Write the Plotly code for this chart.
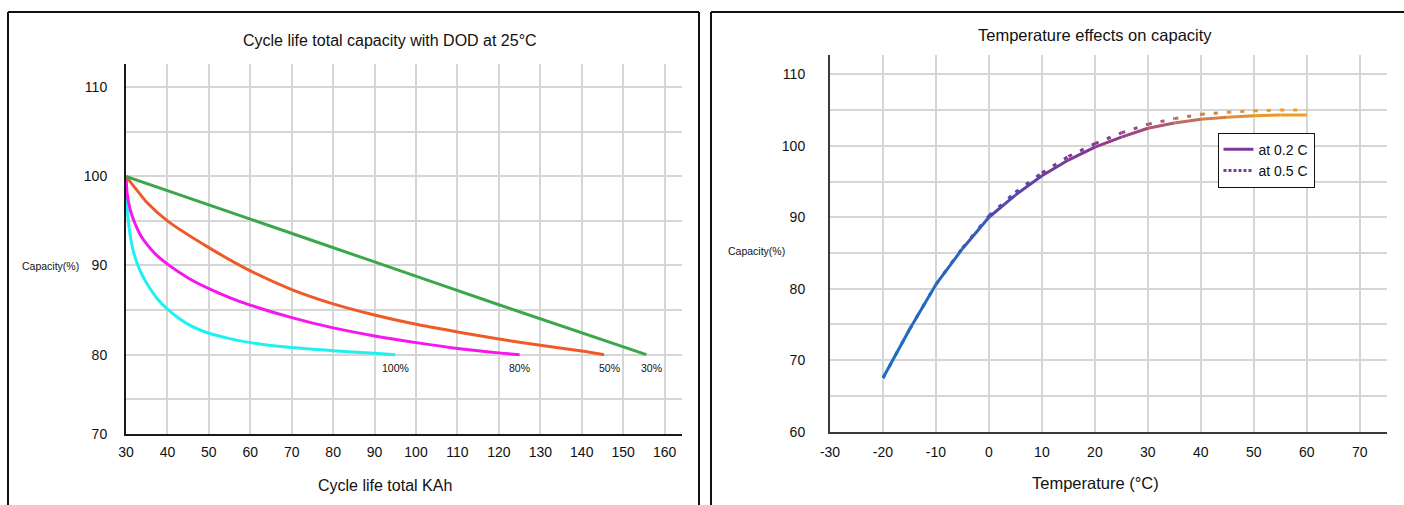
import plotly.graph_objects as go

W, H = 1404, 505

# ---------------- Left chart data (Cycle life vs DOD) ----------------
dod_labels = ["100%", "80%", "50%", "30%"]
dod100_kah = [30, 30.3, 31, 32, 33.5, 35, 37.5, 40, 45, 50, 55, 60, 70, 80, 90, 95]
dod100_cap = [100, 96.3, 93.4, 91.2, 89.3, 88.0, 86.3, 85.1, 83.4, 82.4, 81.8, 81.35, 80.8, 80.45, 80.15, 80.0]
dod80_kah = [30, 30.3, 31, 32, 33.5, 35, 37.5, 40, 45, 50, 55, 60, 70, 80, 90, 100, 110, 120, 125]
dod80_cap = [100, 98.0, 96.3, 94.9, 93.4, 92.4, 91.1, 90.15, 88.6, 87.4, 86.4, 85.55, 84.15, 83.0, 82.1, 81.35, 80.7, 80.2, 80.0]
dod50_kah = [30, 33.4, 35, 40, 50, 60, 70, 80, 90, 100, 110, 120, 130, 140, 145.4]
dod50_cap = [100, 98.0, 97.1, 95.0, 92.0, 89.4, 87.3, 85.7, 84.45, 83.4, 82.55, 81.75, 81.05, 80.4, 80.0]
dod30_kah = [30, 60, 90, 120, 155.6]
dod30_cap = [100, 95.2, 90.4, 85.6, 80.0]

left_ytick_vals = [71.1, 75, 80, 85, 90, 95, 100, 105, 110]
left_ytick_text = ["70", "", "80", "", "90", "", "100", "", "110"]

# ---------------- Right chart data (Temperature effects) ----------------
temp_c = [-20, -15, -10, -5, 0, 5, 10, 15, 20, 25, 30, 35, 40, 45, 50, 55, 60]
cap_02c = [67.5, 74.3, 80.6, 85.6, 90.0, 93.1, 95.8, 98.0, 99.8, 101.2, 102.45, 103.2, 103.7, 104.0, 104.2, 104.3, 104.3]
cap_05c = [67.5, 74.3, 80.6, 85.7, 90.2, 93.5, 96.2, 98.5, 100.3, 101.8, 103.0, 103.8, 104.4, 104.7, 104.9, 105.0, 105.0]
series_names = ["at 0.2 C", "at 0.5 C"]

right_xtick_vals = [-30, -20, -10, 0, 10, 20, 30, 40, 50, 60, 70]
right_xtick_text = ["-30", "-20", "-10", "0", "10", "20", "30", "40", "50", "60", "70"]
right_ytick_vals = [60, 65, 70, 75, 80, 85, 90, 95, 100, 105, 110]
right_ytick_text = ["60", "", "70", "", "80", "", "90", "", "100", "", "110"]

# gradient colour stops along temperature
grad_stops = [(-20, "#1c6fc2"), (-5, "#2f62bb"), (0, "#4a4db0"), (10, "#6a3ea0"),
              (20, "#873592"), (30, "#a64e7c"), (40, "#cc7a4e"), (50, "#e6982e"), (60, "#f0a020")]


def hex2rgb(h):
    h = h.lstrip("#")
    return tuple(int(h[i:i + 2], 16) for i in (0, 2, 4))


def grad_color(t):
    if t <= grad_stops[0][0]:
        return grad_stops[0][1]
    for (t0, c0), (t1, c1) in zip(grad_stops[:-1], grad_stops[1:]):
        if t0 <= t <= t1:
            f = (t - t0) / (t1 - t0)
            a, b = hex2rgb(c0), hex2rgb(c1)
            r = [round(a[i] + (b[i] - a[i]) * f) for i in range(3)]
            return "rgb(%d,%d,%d)" % tuple(r)
    return grad_stops[-1][1]


def px_x(p):
    return p / W


def px_y(p):
    return 1 - p / H


FONT = "Arial, Liberation Sans, sans-serif"
GRID = "#d6d6d6"

fig = go.Figure()

# Left curves
left_series = [
    (dod100_kah, dod100_cap, "#1ff0f0", dod_labels[0]),
    (dod80_kah, dod80_cap, "#f516f0", dod_labels[1]),
    (dod50_kah, dod50_cap, "#ee5a28", dod_labels[2]),
    (dod30_kah, dod30_cap, "#3aa849", dod_labels[3]),
]
for xs, ys, col, name in left_series:
    fig.add_trace(go.Scatter(x=xs, y=ys, mode="lines", name=name,
                             line=dict(color=col, width=3, shape="spline", smoothing=0.8),
                             xaxis="x", yaxis="y", showlegend=False, hoverinfo="skip"))

# Right curves: gradient segments
for vals, dash in [(cap_02c, "solid"), (cap_05c, "4px,9px")]:
    for i in range(len(temp_c) - 1):
        tm = 0.5 * (temp_c[i] + temp_c[i + 1])
        fig.add_trace(go.Scatter(x=temp_c[i:i + 2], y=vals[i:i + 2], mode="lines",
                                 line=dict(color=grad_color(tm), width=3, dash=dash),
                                 xaxis="x2", yaxis="y2", showlegend=False, hoverinfo="skip"))

# legend entries
fig.add_trace(go.Scatter(x=[None], y=[None], mode="lines", name=series_names[0],
                         line=dict(color="#7a3a98", width=3), xaxis="x2", yaxis="y2"))
fig.add_trace(go.Scatter(x=[None], y=[None], mode="lines", name=series_names[1],
                         line=dict(color="#7a3a98", width=3, dash="3px,2px"), xaxis="x2", yaxis="y2"))

axis_common = dict(showgrid=True, gridcolor=GRID, gridwidth=1.5, zeroline=False,
                   showline=True, ticks="", automargin=False,
                   tickfont=dict(size=14, color="#111", family=FONT))

fig.update_layout(
    width=W, height=H, autosize=False,
    margin=dict(l=0, r=0, t=0, b=0, pad=0, autoexpand=False),
    paper_bgcolor="white", plot_bgcolor="white",
    font=dict(family=FONT, color="#111"),
    xaxis=dict(domain=[px_x(126), px_x(682)], range=[30, 164.2], tickmode="linear",
               tick0=30, dtick=10, anchor="y", linecolor="#1a1a1a", linewidth=2,
               ticklabelstandoff=4, **axis_common),
    yaxis=dict(domain=[px_y(434), px_y(64)], range=[71.1, 112.6], tickmode="array",
               tickvals=left_ytick_vals, ticktext=left_ytick_text, anchor="x",
               linecolor="#1a1a1a", linewidth=2, ticklabelstandoff=14, **axis_common),
    xaxis2=dict(domain=[px_x(830), px_x(1387.3)], range=[-30, 75.2], tickmode="array",
                tickvals=right_xtick_vals, ticktext=right_xtick_text, anchor="y2",
                linecolor="#3a3a3a", linewidth=2, ticklabelstandoff=6, **axis_common),
    yaxis2=dict(domain=[px_y(431.7), px_y(55)], range=[60, 112.7], tickmode="array",
                tickvals=right_ytick_vals, ticktext=right_ytick_text, anchor="x2",
                linecolor="#3a3a3a", linewidth=2, ticklabelstandoff=20, **axis_common),
    legend=dict(x=px_x(1217.5), y=px_y(132.7), xanchor="left", yanchor="top",
                bordercolor="#111", borderwidth=1, bgcolor="white",
                font=dict(size=14, family=FONT, color="#111"), itemwidth=30,
                tracegroupgap=0),
)

# Panel borders (left, top, right edges of each framed panel)
border = dict(color="#111", width=2)
for x0, x1 in [(8, 699), (711, 1404)]:
    fig.add_shape(type="line", xref="paper", yref="paper", x0=px_x(x0), x1=px_x(x0),
                  y0=0, y1=px_y(12), line=border, layer="above")
    fig.add_shape(type="line", xref="paper", yref="paper", x0=px_x(x0), x1=px_x(x1),
                  y0=px_y(12), y1=px_y(12), line=border, layer="above")
    if x1 < W:
        fig.add_shape(type="line", xref="paper", yref="paper", x0=px_x(x1), x1=px_x(x1),
                      y0=0, y1=px_y(12), line=border, layer="above")

# Titles and axis titles
texts = [
    ("Cycle life total capacity with DOD at 25°C", 390, 41, 16),
    ("Cycle life total KAh", 385, 485, 16),
    ("Capacity(%)", 50.5, 266, 10.5),
    ("Temperature effects on capacity", 1095, 35, 16.5),
    ("Temperature (°C)", 1095, 483, 16.5),
    ("Capacity(%)", 756, 251, 10.5),
]
for t, x, y, s in texts:
    fig.add_annotation(text=t, xref="paper", yref="paper", x=px_x(x), y=px_y(y),
                       xanchor="center", yanchor="middle", showarrow=False,
                       font=dict(size=s, family=FONT, color="#111"))

# DOD end labels
ends = [(dod100_kah[-1], dod100_cap[-1], 0), (dod80_kah[-1], dod80_cap[-1], 0),
        (dod50_kah[-1], dod50_cap[-1], 5), (dod30_kah[-1], dod30_cap[-1], 5)]
for (xe, ye, dx), lab in zip(ends, dod_labels):
    fig.add_annotation(text=lab, xref="x", yref="y", x=xe, y=ye, xshift=dx, yshift=-13,
                       xanchor="center", yanchor="middle", showarrow=False,
                       font=dict(size=10.5, family=FONT, color="#111"))

fig.write_html("out.html")
